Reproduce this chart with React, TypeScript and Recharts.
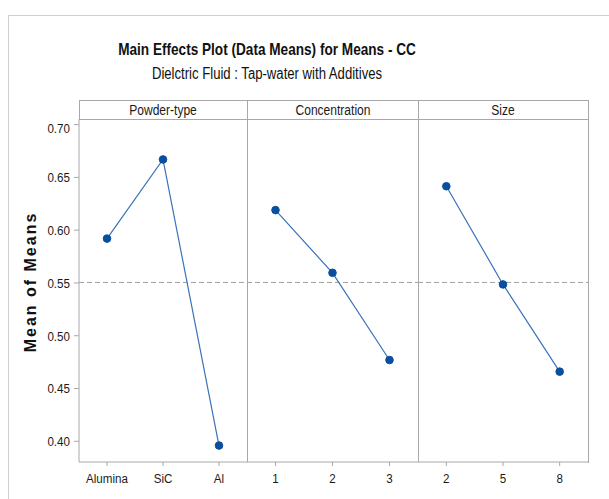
import React from "react";
import { LineChart, Line, XAxis, YAxis, ReferenceLine } from "recharts";

const powderCats = ["Alumina", "SiC", "Al"];
const powderMeans = [0.592, 0.667, 0.396];
const concCats = ["1", "2", "3"];
const concMeans = [0.619, 0.5596, 0.477];
const sizeCats = ["2", "5", "8"];
const sizeMeans = [0.6416, 0.5486, 0.466];
const yTicks = [0.4, 0.45, 0.5, 0.55, 0.6, 0.65, 0.7];
const grandMean = 0.5505;
const panelTitles = ["Powder-type", "Concentration", "Size"];

const Y_DOMAIN: [number, number] = [0.3804, 0.7053];
const FONT = "'Liberation Sans', Arial, sans-serif";
const AXIS_GRAY = "#a8a8a8";
const LINE_BLUE = "#3a72b8";
const DOT_BLUE = "#0a4f9e";
const NARROW = 0.86;

const PLOT_TOP = 119;
const PLOT_BOTTOM = 462;
const X_AXIS_H = 30;

function toRows(cats: string[], vals: number[]) {
  return cats.map((c, i) => ({ cat: c, mean: vals[i] }));
}

function XTick(props: any) {
  const { x, y, payload } = props;
  return (
    <g transform={`translate(${x},${y + 7})`}>
      <text
        transform={`scale(${NARROW},1)`}
        textAnchor="middle"
        dy="0.71em"
        fontSize={13.5}
        fontFamily={FONT}
        fill="#1a1a1a"
      >
        {payload.value}
      </text>
    </g>
  );
}

function YTick(props: any) {
  const { x, y, payload } = props;
  return (
    <g transform={`translate(${x - 4},${y})`}>
      <text
        transform={`scale(${NARROW},1)`}
        textAnchor="end"
        dy="0.355em"
        fontSize={13.5}
        fontFamily={FONT}
        fill="#1a1a1a"
      >
        {Number(payload.value).toFixed(2)}
      </text>
    </g>
  );
}

type PanelProps = {
  cats: string[];
  vals: number[];
  left: number;
  width: number;
  showY: boolean;
};

function Panel({ cats, vals, left, width, showY }: PanelProps) {
  const yW = showY ? 79 : 0;
  const plotW = width - yW;
  const pad = plotW / cats.length / 2;
  const h = PLOT_BOTTOM - PLOT_TOP + X_AXIS_H;
  return (
    <div style={{ position: "absolute", left: left - yW, top: PLOT_TOP }}>
      <LineChart
        width={width}
        height={h}
        data={toRows(cats, vals)}
        margin={{ top: 0, right: 0, bottom: 0, left: 0 }}
      >
        <XAxis
          dataKey="cat"
          type="category"
          padding={{ left: pad, right: pad }}
          height={X_AXIS_H}
          tickSize={4}
          tickMargin={0}
          interval={0}
          stroke={AXIS_GRAY}
          tick={<XTick />}
        />
        <YAxis
          type="number"
          domain={Y_DOMAIN}
          ticks={yTicks}
          hide={!showY}
          width={79}
          tickSize={5}
          tickMargin={0}
          stroke={AXIS_GRAY}
          allowDataOverflow
          tick={<YTick />}
        />
        <ReferenceLine
          y={grandMean}
          stroke="#a0a0a0"
          strokeDasharray="5 3"
          strokeWidth={1}
          ifOverflow="extendDomain"
        />
        <Line
          type="linear"
          dataKey="mean"
          stroke={LINE_BLUE}
          strokeWidth={1.2}
          dot={{ r: 3.8, fill: DOT_BLUE, stroke: DOT_BLUE, strokeWidth: 1 }}
          activeDot={false}
          isAnimationActive={false}
        />
      </LineChart>
    </div>
  );
}

export default function App() {
  const panels = [
    { cats: powderCats, vals: powderMeans, left: 79, width: 168 },
    { cats: concCats, vals: concMeans, left: 247, width: 171 },
    { cats: sizeCats, vals: sizeMeans, left: 418, width: 170 },
  ];
  const narrowTitle = (scale: number): React.CSSProperties => ({
    position: "absolute",
    left: 267,
    transform: `translateX(-50%) scaleX(${scale})`,
    whiteSpace: "nowrap",
    color: "#111",
  });
  return (
    <div
      style={{
        position: "absolute",
        left: 0,
        top: 0,
        width: 609,
        height: 499,
        background: "#fff",
        overflow: "hidden",
        fontFamily: FONT,
      }}
    >
      {/* outer frame */}
      <div
        style={{
          position: "absolute",
          left: 8,
          top: 15,
          width: 640,
          height: 520,
          border: "1px solid #cfcfcf",
        }}
      />
      {/* titles */}
      <div style={{ ...narrowTitle(0.8), top: 40, fontWeight: "bold", fontSize: 17 }}>
        Main Effects Plot (Data Means) for Means - CC
      </div>
      <div style={{ ...narrowTitle(0.82), top: 65, fontSize: 16 }}>
        Dielctric Fluid : Tap-water with Additives
      </div>
      {/* y label */}
      <div
        style={{
          position: "absolute",
          left: 31,
          top: 282,
          transform: "translate(-50%, -50%) rotate(-90deg)",
          whiteSpace: "nowrap",
          fontWeight: "bold",
          fontSize: 16,
          letterSpacing: 2,
          color: "#111",
        }}
      >
        Mean of Means
      </div>

      {panels.map((p, i) => (
        <Panel
          key={i}
          cats={p.cats}
          vals={p.vals}
          left={p.left}
          width={p.width + (i === 0 ? 79 : 0)}
          showY={i === 0}
        />
      ))}

      {/* panel frame and strip */}
      <div
        style={{
          position: "absolute",
          left: 79,
          top: 100,
          width: 509,
          height: 362,
          borderTop: `1px solid ${AXIS_GRAY}`,
          borderRight: `1px solid ${AXIS_GRAY}`,
          pointerEvents: "none",
        }}
      />
      <div
        style={{
          position: "absolute",
          left: 79,
          top: 100,
          width: 1,
          height: 19,
          background: AXIS_GRAY,
        }}
      />
      <div
        style={{
          position: "absolute",
          left: 79,
          top: 119,
          width: 510,
          height: 1,
          background: AXIS_GRAY,
        }}
      />
      {[247, 418].map((x) => (
        <div
          key={x}
          style={{
            position: "absolute",
            left: x,
            top: 100,
            width: 1,
            height: 362,
            background: AXIS_GRAY,
          }}
        />
      ))}
      {panels.map((p, i) => (
        <div
          key={i}
          style={{
            position: "absolute",
            left: p.left + p.width / 2,
            top: 101,
            height: 18,
            lineHeight: "18px",
            transform: `translateX(-50%) scaleX(${NARROW})`,
            whiteSpace: "nowrap",
            fontSize: 14,
            color: "#1a1a1a",
          }}
        >
          {panelTitles[i]}
        </div>
      ))}
    </div>
  );
}
